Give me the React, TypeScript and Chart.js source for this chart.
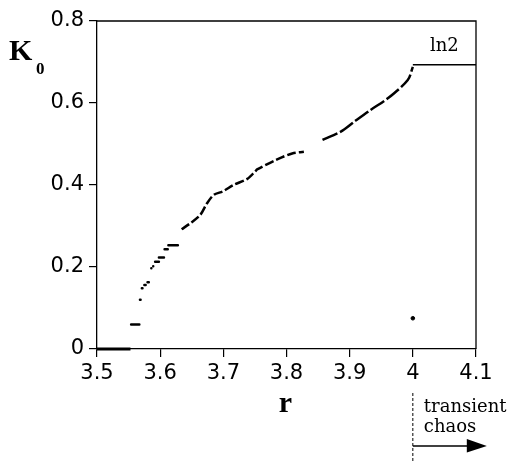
import React, { useEffect, useRef } from "react";
import { Chart, registerables } from "chart.js";

Chart.register(...registerables);

// ---- data ----
const xTicks = [3.5, 3.6, 3.7, 3.8, 3.9, 4.0, 4.1];
const yTicks = [0, 0.2, 0.4, 0.6, 0.8];

// K0 = 0 plateau (periodic region)
const zeroR = [3.5, 3.553];
const zeroK = [0, 0];

// short isolated dashes / dots in the early chaotic region
const lowStartR = [3.554, 3.568, 3.571, 3.575, 3.580, 3.586, 3.589, 3.592, 3.598, 3.607, 3.613];
const lowEndR = [3.567, 3.569, 3.572, 3.577, 3.582, 3.587, 3.590, 3.598, 3.606, 3.612, 3.628];
const lowK = [0.060, 0.120, 0.148, 0.156, 0.163, 0.197, 0.202, 0.213, 0.223, 0.243, 0.253];

// main curve, first branch (dashed)
const curve1R = [3.634, 3.648, 3.6635, 3.674, 3.685, 3.700, 3.716, 3.738, 3.751, 3.7535, 3.783, 3.809, 3.8275];
const curve1K = [0.292, 0.307, 0.327, 0.355, 0.376, 0.385, 0.400, 0.415, 0.434, 0.438, 0.461, 0.477, 0.481];

// main curve, second branch
const curve2R = [3.857, 3.886, 3.907, 3.933, 3.961, 3.992, 4.0];
const curve2K = [0.510, 0.530, 0.554, 0.583, 0.612, 0.656, 0.688];

// ln2 plateau for r > 4
const ln2R = [4.0, 4.1];
const ln2K = [0.693, 0.693];

// isolated point at r = 4
const dotR = [4.0];
const dotK = [0.075];

const pts = (xs: number[], ys: number[]) => xs.map((x, i) => ({ x, y: ys[i] }));

const segPts = (a: number[], b: number[], k: number[]) => {
  const out: any[] = [];
  a.forEach((r, i) => {
    out.push({ x: r, y: k[i] });
    out.push({ x: b[i], y: k[i] });
    out.push({ x: b[i], y: null });
  });
  return out;
};

const annotations = {
  id: "annotations",
  afterDraw(chart: any) {
    const { ctx, chartArea, scales } = chart;
    const xs = scales.x;
    ctx.save();
    // frame top & right
    ctx.strokeStyle = "#000";
    ctx.lineWidth = 1.3;
    ctx.beginPath();
    ctx.moveTo(chartArea.left, chartArea.top);
    ctx.lineTo(chartArea.right, chartArea.top);
    ctx.lineTo(chartArea.right, chartArea.bottom);
    ctx.stroke();

    ctx.fillStyle = "#000";
    // K0 label
    ctx.font = "bold 30px 'Liberation Serif'";
    ctx.textBaseline = "alphabetic";
    ctx.textAlign = "left";
    ctx.fillText("K", 9, 60);
    ctx.font = "bold 17px 'Liberation Serif'";
    ctx.fillText("0", 36, 74);

    // r label
    ctx.font = "bold 30px 'Liberation Serif'";
    ctx.textAlign = "center";
    ctx.fillText("r", xs.getPixelForValue(3.8) - 1, 412);

    // ln2 label
    ctx.font = "18px 'DejaVu Serif'";
    ctx.textAlign = "center";
    ctx.fillText("ln2", xs.getPixelForValue(4.05), 51);

    // dashed marker at r = 4 below axis
    const x4 = xs.getPixelForValue(4.0);
    ctx.setLineDash([3, 2]);
    ctx.lineWidth = 1;
    ctx.beginPath();
    ctx.moveTo(x4, 393);
    ctx.lineTo(x4, 462);
    ctx.stroke();
    ctx.setLineDash([]);

    // transient chaos text
    ctx.font = "18px 'DejaVu Serif'";
    ctx.textAlign = "left";
    ctx.fillText("transient", x4 + 11, 412);
    ctx.fillText("chaos", x4 + 11, 432);

    // arrow
    ctx.lineWidth = 1.3;
    ctx.beginPath();
    ctx.moveTo(x4, 446);
    ctx.lineTo(x4 + 56, 446);
    ctx.stroke();
    ctx.beginPath();
    ctx.moveTo(x4 + 54, 439);
    ctx.lineTo(x4 + 74, 446);
    ctx.lineTo(x4 + 54, 452.5);
    ctx.closePath();
    ctx.fill();
    ctx.restore();
  },
};

export default function App() {
  const ref = useRef<HTMLCanvasElement | null>(null);
  useEffect(() => {
    if (!ref.current) return;
    const chart = new Chart(ref.current, {
      type: "scatter",
      data: {
        datasets: [
          {
            data: pts(zeroR, zeroK),
            showLine: true,
            borderColor: "#000",
            borderWidth: 3,
            pointRadius: 0,
            clip: 6,
          },
          {
            data: segPts(lowStartR, lowEndR, lowK),
            showLine: true,
            spanGaps: false,
            borderColor: "#000",
            borderWidth: 2.5,
            borderCapStyle: "round",
            pointRadius: 0,
          },
          {
            data: pts(curve1R, curve1K),
            showLine: true,
            borderColor: "#000",
            borderWidth: 2.5,
            borderDash: [9, 3],
            pointRadius: 0,
            tension: 0.3,
          },
          {
            data: pts(curve2R, curve2K),
            showLine: true,
            borderColor: "#000",
            borderWidth: 2.5,
            borderDash: [16, 3],
            pointRadius: 0,
            tension: 0.3,
          },
          {
            data: pts(ln2R, ln2K),
            showLine: true,
            borderColor: "#000",
            borderWidth: 1.5,
            pointRadius: 0,
          },
          {
            data: pts(dotR, dotK),
            showLine: false,
            backgroundColor: "#000",
            borderColor: "#000",
            pointRadius: 1.8,
          },
        ],
      } as any,
      options: {
        animation: false,
        responsive: false,
        maintainAspectRatio: false,
        layout: { padding: { top: 21, right: 36, left: 0, bottom: 0 } },
        plugins: { legend: { display: false }, tooltip: { enabled: false } },
        scales: {
          x: {
            type: "linear",
            min: 3.5,
            max: 4.1,
            afterBuildTicks: (s: any) => {
              s.ticks = xTicks.map((v) => ({ value: v }));
            },
            afterFit: (s: any) => {
              s.height = 113;
            },
            ticks: {
              color: "#000",
              font: { family: "'DejaVu Sans'", size: 21 },
              padding: 4,
              maxRotation: 0,
              callback: (v: any) => (Math.abs(v - 4) < 1e-9 ? "4" : Number(v).toFixed(1)),
            },
            grid: {
              display: true,
              drawOnChartArea: false,
              drawTicks: true,
              tickLength: 8,
              color: "#000",
              lineWidth: 1.2,
            },
            border: { display: true, color: "#000", width: 1.3 },
          },
          y: {
            type: "linear",
            min: 0,
            max: 0.8,
            afterBuildTicks: (s: any) => {
              s.ticks = yTicks.map((v) => ({ value: v }));
            },
            afterFit: (s: any) => {
              s.width = 97;
            },
            ticks: {
              color: "#000",
              font: { family: "'DejaVu Sans'", size: 21 },
              padding: 5,
              callback: (v: any) => (v === 0 ? "0" : Number(v).toFixed(1)),
            },
            grid: {
              display: true,
              drawOnChartArea: false,
              drawTicks: true,
              tickLength: 8,
              color: "#000",
              lineWidth: 1.2,
            },
            border: { display: true, color: "#000", width: 1.3 },
          },
        },
      } as any,
      plugins: [annotations],
    });
    return () => chart.destroy();
  }, []);
  return (
    <div style={{ position: "absolute", left: 0, top: 0, width: 512, height: 462, background: "#fff" }}>
      <canvas ref={ref} width={512} height={462} style={{ display: "block" }} />
    </div>
  );
}
